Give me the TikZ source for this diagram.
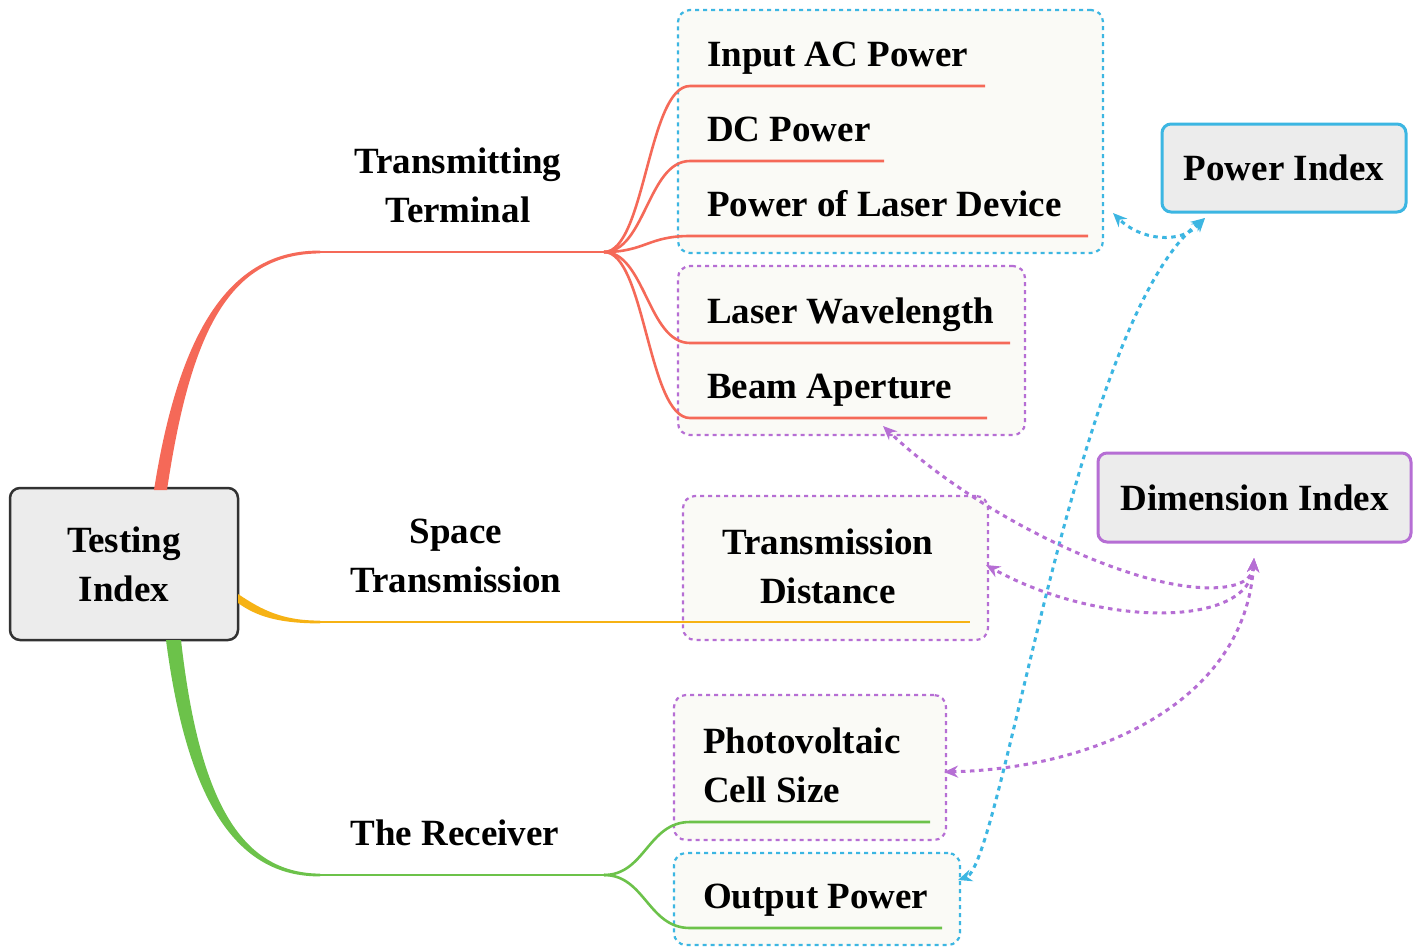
\documentclass[tikz,border=0pt]{standalone}
\usepackage{fontspec}
\setmainfont{Liberation Serif}
\usetikzlibrary{arrows.meta}
\definecolor{redb}{RGB}{245,105,88}
\definecolor{yelb}{RGB}{246,178,20}
\definecolor{grnb}{RGB}{108,194,74}
\definecolor{cyanb}{RGB}{60,182,226}
\definecolor{purb}{RGB}{182,110,212}
\definecolor{grpfill}{RGB}{250,250,246}
\definecolor{idxfill}{RGB}{236,236,236}
\definecolor{rootdraw}{RGB}{50,50,50}
\tikzset{
  txt/.style={inner sep=0pt, font=\fontsize{37}{49}\selectfont\bfseries},
  grpbox/.style={draw, fill=grpfill, rounded corners=12pt, line width=2.2pt, dash pattern=on 4pt off 4pt, inner sep=0pt},
  idxbox/.style={draw, fill=idxfill, rounded corners=9pt, line width=3pt, inner sep=0pt, font=\fontsize{37}{49}\selectfont\bfseries},
  brline/.style={line width=2.6pt},
  dotarrow/.style={line width=3pt, dash pattern=on 4.5pt off 4.5pt, {Stealth[length=14pt,width=12pt]}-{Stealth[length=14pt,width=12pt]}}
}
\begin{document}
\begin{tikzpicture}[x=1pt,y=-1pt]
\useasboundingbox (0,0) rectangle (1421,951);
\fill[white] (0,0) rectangle (1421,951);

% group boxes
\node[grpbox, draw=cyanb, minimum width=425pt, minimum height=243pt] (gA) at (890.5,131.5) {};
\node[grpbox, draw=purb, minimum width=347pt, minimum height=169pt] (gB) at (851.5,350.5) {};
\node[grpbox, draw=purb, minimum width=305pt, minimum height=144pt] (gC) at (835.5,568) {};
\node[grpbox, draw=purb, minimum width=272pt, minimum height=145pt] (gD) at (810,767.5) {};
\node[grpbox, draw=cyanb, minimum width=286pt, minimum height=92pt] (gE) at (817,899) {};

% root and index boxes
\node[idxbox, draw=rootdraw, line width=2.5pt, rounded corners=10pt, minimum width=228pt, minimum height=152pt, align=center] (root) at (124,564) {Testing\\Index};
\node[idxbox, draw=cyanb, minimum width=244pt, minimum height=88pt] (pwr) at (1284,168) {Power Index};
\node[idxbox, draw=purb, minimum width=313pt, minimum height=89pt] (dim) at (1254.5,497.5) {Dimension Index};

% coordinates
\coordinate (fanR) at (604,252);
\coordinate (fanG) at (604,875);

% red branch (tapered)
\fill[redb] (154,490) .. controls (179,331) and (230,249.8) .. (320,250.6)
  -- (320,253.4) .. controls (230,254.2) and (191,329) .. (167,490) -- cycle;
\draw[redb, brline] (319,252) -- (fanR);
% yellow branch
\fill[yelb] (238,594) .. controls (262,610) and (282,620.6) .. (320,620.6)
  -- (320,623.4) .. controls (278,623.4) and (256,616) .. (238,603) -- cycle;
\draw[yelb, brline] (319,622) -- (970,622);
% green branch
\fill[grnb] (166,640) .. controls (187,801) and (236,876.8) .. (320,876.4)
  -- (320,873.6) .. controls (240,873.2) and (199,799) .. (181,640) -- cycle;
\draw[grnb, brline] (319,875) -- (fanG);

% red fan
\draw[redb, brline] (fanR) .. controls (645,252) and (648,86) .. (690,86) -- (985,86);
\draw[redb, brline] (fanR) .. controls (645,252) and (648,161) .. (690,161) -- (884,161);
\draw[redb, brline] (fanR) .. controls (645,252) and (648,236) .. (690,236) -- (1088,236);
\draw[redb, brline] (fanR) .. controls (645,252) and (648,343) .. (690,343) -- (1010,343);
\draw[redb, brline] (fanR) .. controls (645,252) and (648,418) .. (690,418) -- (987,418);
% green fan
\draw[grnb, brline] (fanG) .. controls (645,875) and (648,822) .. (690,822) -- (930,822);
\draw[grnb, brline] (fanG) .. controls (645,875) and (648,928) .. (690,928) -- (942,928);

% branch labels
\node[txt, align=center] (lT) at (458,185) {Transmitting\\Terminal};
\node[txt, align=center] (lS) at (456,556) {Space\\Transmission};
\node[txt, anchor=base] (lR) at (455,845) {The Receiver};

% leaf labels
\node[txt, anchor=base west] (n1) at (707,66) {Input AC Power};
\node[txt, anchor=base west] (n2) at (707,141) {DC Power};
\node[txt, anchor=base west] (n3) at (707,216) {Power of Laser Device};
\node[txt, anchor=base west] (n4) at (707,323) {Laser Wavelength};
\node[txt, anchor=base west] (n5) at (707,398) {Beam Aperture};
\node[txt, align=center] (n6) at (828,566) {Transmission\\Distance};
\node[txt, align=left, anchor=west] (n7) at (703,765) {Photovoltaic\\Cell Size};
\node[txt, anchor=base west] (n8) at (703,908) {Output Power};

% dotted relation connectors
\coordinate (pI) at (1205,218);
\coordinate (pA) at (1113,213);
\coordinate (pE) at (958,880);
\coordinate (pD) at (1254,558);
\coordinate (pB) at (883,426);
\coordinate (pT) at (986,565);
\coordinate (pP) at (944,772);

\draw[dotarrow, cyanb] (pI) .. controls (1180,245) and (1140,240) .. (pA);
\draw[dotarrow, cyanb] (pI) .. controls (1075,320) and (1002,865) .. (pE);

\draw[dotarrow, purb] (pD) .. controls (1252,592) and (1200,594) .. (1140,576) .. controls (1050,549) and (950,490) .. (pB);
\draw[dotarrow, purb] (pD) .. controls (1250,628) and (1100,628) .. (pT);
\draw[dotarrow, purb] (pD) .. controls (1245,700) and (1100,768) .. (pP);
\end{tikzpicture}
\end{document}
